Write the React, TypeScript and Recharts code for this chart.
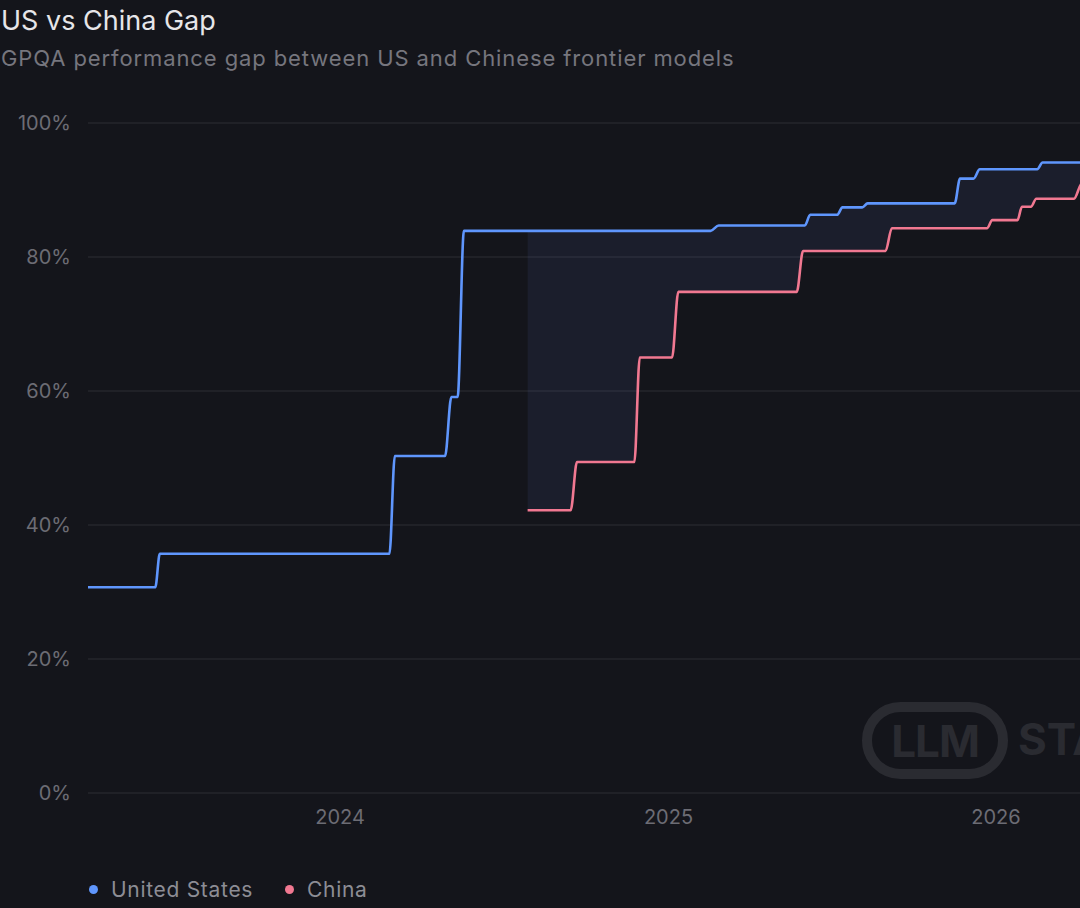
import { ComposedChart, Line, Area, XAxis, YAxis, CartesianGrid } from 'recharts';

// step points: each release appears as a "hold" point then the new level
const usDates = [
  '2023-03-26', '2023-06-09', '2023-06-14', '2024-02-25', '2024-03-02',
  '2024-04-27', '2024-05-04', '2024-05-11', '2024-05-18', '2025-02-17',
  '2025-02-26', '2025-06-02', '2025-06-08', '2025-07-08', '2025-07-14',
  '2025-08-05', '2025-08-11', '2025-11-16', '2025-11-22', '2025-12-07',
  '2025-12-14', '2026-02-16', '2026-02-22', '2026-04-27',
];
const usValues = [
  30.7, 30.7, 35.7, 35.7, 50.3,
  50.3, 59.1, 59.1, 83.9, 83.9,
  84.7, 84.7, 86.3, 86.3, 87.4,
  87.4, 88.0, 88.0, 91.7, 91.7,
  93.1, 93.1, 94.1, 94.1,
];

const cnDates = [
  '2024-07-28', '2024-09-14', '2024-09-21', '2024-11-24', '2024-11-30',
  '2025-01-05', '2025-01-12', '2025-05-24', '2025-05-31', '2025-08-31',
  '2025-09-07', '2025-12-22', '2025-12-28', '2026-01-25', '2026-01-30',
  '2026-02-09', '2026-02-15', '2026-03-29', '2026-04-07', '2026-04-27',
];
const cnValues = [
  42.2, 42.2, 49.4, 49.4, 65.0,
  65.0, 74.8, 74.8, 80.9, 80.9,
  84.3, 84.3, 85.5, 85.5, 87.5,
  87.5, 88.7, 88.7, 91.0, 91.0,
];

const yearTicks = ['2024-01-01', '2025-01-01', '2026-01-01'];
const pctTicks = [0, 20, 40, 60, 80, 100];

const BG = '#14151b';
const BLUE = '#5f96fd';
const RED = '#f17891';
const GRID = '#25262d';
const MUTED = '#6c6c74';

const ts = (d: string) => Date.parse(d + 'T00:00:00Z');

// value of a step series at time t (last level reached)
function levelAt(dates: string[], values: number[], t: number) {
  let v: number | null = null;
  dates.forEach((d, i) => {
    if (ts(d) <= t) v = values[i];
  });
  return v;
}

const cnStart = ts(cnDates[0]);
const times = Array.from(new Set([...usDates, ...cnDates].map(ts))).sort((a, b) => a - b);
const rows = times.map((t) => {
  const ui = usDates.findIndex((d) => ts(d) === t);
  const ci = cnDates.findIndex((d) => ts(d) === t);
  const row: any = {
    t,
    us: ui >= 0 ? usValues[ui] : null,
    cn: ci >= 0 ? cnValues[ci] : null,
  };
  if (t >= cnStart) {
    row.gap = [levelAt(cnDates, cnValues, t), levelAt(usDates, usValues, t)];
  }
  return row;
});

function LegendItem({ color, label, left }: { color: string; label: string; left: number }) {
  return (
    <div style={{ position: 'absolute', left, top: 879, display: 'flex', alignItems: 'center' }}>
      <span
        style={{ width: 9, height: 9, borderRadius: '50%', background: color, display: 'inline-block', marginRight: 13 }}
      />
      <span style={{ fontSize: 21, lineHeight: '21px', letterSpacing: 0.7, color: '#8d8d95' }}>{label}</span>
    </div>
  );
}

export default function App() {
  return (
    <div
      style={{
        position: 'absolute',
        left: 0,
        top: 0,
        width: 1080,
        height: 908,
        overflow: 'hidden',
        background: BG,
        fontFamily: 'Inter, "Noto Sans", sans-serif',
      }}
    >
      <div style={{ position: 'absolute', left: 1, top: 7, fontSize: 27, lineHeight: '27px', color: '#e6e6e9' }}>
        US vs China Gap
      </div>
      <div
        style={{
          position: 'absolute',
          left: 1,
          top: 47,
          fontSize: 22,
          lineHeight: '22px',
          letterSpacing: 0.9,
          color: '#76767e',
        }}
      >
        GPQA performance gap between US and Chinese frontier models
      </div>

      {/* watermark */}
      <div
        style={{
          position: 'absolute',
          left: 862,
          top: 702,
          width: 146,
          height: 77,
          boxSizing: 'border-box',
          border: '10px solid #2a2b31',
          borderRadius: 39,
          display: 'flex',
          alignItems: 'center',
          justifyContent: 'center',
          color: '#2a2b31',
          fontSize: 44,
          fontWeight: 700,
          letterSpacing: -1,
        }}
      >
        LLM
      </div>
      <div
        style={{
          position: 'absolute',
          left: 1018,
          top: 715,
          fontSize: 44,
          lineHeight: '48px',
          fontWeight: 700,
          color: '#2a2b31',
        }}
      >
        STATS
      </div>

      <div style={{ position: 'absolute', left: 0, top: 0 }}>
        <ComposedChart width={1100} height={840} data={rows} margin={{ top: 123, right: 0, bottom: 0, left: 0 }}>
          <CartesianGrid stroke={GRID} strokeWidth={1.5} vertical={false} />
          <XAxis
            dataKey="t"
            type="number"
            domain={[ts(usDates[0]), ts(usDates[usDates.length - 1])]}
            ticks={yearTicks.map(ts)}
            tickFormatter={(v) => String(new Date(v).getUTCFullYear())}
            tick={{ fill: MUTED, fontSize: 20 }}
            axisLine={false}
            tickLine={false}
            tickMargin={11}
            height={47}
          />
          <YAxis
            domain={[0, 100]}
            ticks={pctTicks}
            tickFormatter={(v) => `${v}%`}
            tick={{ fill: MUTED, fontSize: 20 }}
            axisLine={false}
            tickLine={false}
            tickMargin={11}
            width={88}
          />
          <Area
            type="monotone"
            dataKey="gap"
            stroke="none"
            fill="#6478c8"
            fillOpacity={0.1}
            connectNulls
            isAnimationActive={false}
            activeDot={false}
          />
          <Line
            type="monotone"
            dataKey="us"
            stroke={BLUE}
            strokeWidth={2.6}
            dot={false}
            activeDot={false}
            connectNulls
            isAnimationActive={false}
          />
          <Line
            type="monotone"
            dataKey="cn"
            stroke={RED}
            strokeWidth={2.6}
            dot={false}
            activeDot={false}
            connectNulls
            isAnimationActive={false}
          />
        </ComposedChart>
      </div>

      <LegendItem color={BLUE} label="United States" left={89} />
      <LegendItem color={RED} label="China" left={285} />
    </div>
  );
}
